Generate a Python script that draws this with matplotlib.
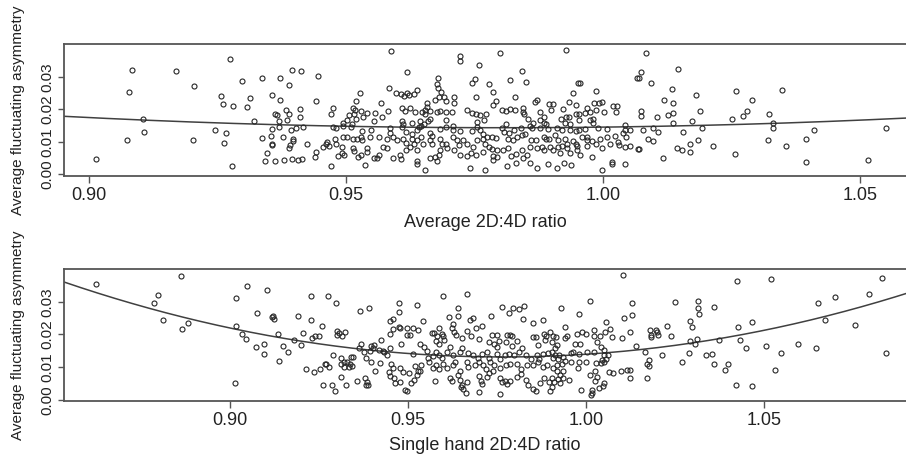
import numpy as np
import matplotlib.pyplot as plt

plt.rcParams['font.family'] = ['Liberation Sans', 'DejaVu Sans']

# Puntos: (ratio 2D:4D medio, asimetria fluctuante media)
avg_pts = [
    (0.9013, 0.0048), (0.9074, 0.0106), (0.9078, 0.0254), (0.9083, 0.0322), (0.9105, 0.0171),
    (0.9106, 0.0130), (0.9169, 0.0318), (0.9202, 0.0105), (0.9203, 0.0273), (0.9245, 0.0138),
    (0.9256, 0.0241), (0.9260, 0.0215), (0.9263, 0.0097), (0.9267, 0.0126), (0.9273, 0.0354),
    (0.9278, 0.0026), (0.9280, 0.0210), (0.9297, 0.0286), (0.9307, 0.0208), (0.9313, 0.0235),
    (0.9320, 0.0163), (0.9337, 0.0295), (0.9337, 0.0111), (0.9342, 0.0042), (0.9346, 0.0066),
    (0.9354, 0.0118), (0.9355, 0.0244), (0.9355, 0.0139), (0.9355, 0.0095), (0.9356, 0.0090),
    (0.9361, 0.0185), (0.9361, 0.0042), (0.9365, 0.0182), (0.9370, 0.0164), (0.9370, 0.0145),
    (0.9371, 0.0230), (0.9372, 0.0297), (0.9377, 0.0114), (0.9379, 0.0044), (0.9383, 0.0197),
    (0.9384, 0.0166), (0.9388, 0.0275), (0.9388, 0.0186), (0.9389, 0.0081), (0.9390, 0.0090),
    (0.9392, 0.0138), (0.9394, 0.0321), (0.9394, 0.0048), (0.9396, 0.0110), (0.9397, 0.0103),
    (0.9402, 0.0142), (0.9407, 0.0044), (0.9411, 0.0201), (0.9411, 0.0178), (0.9413, 0.0317),
    (0.9415, 0.0048), (0.9416, 0.0146), (0.9424, 0.0093),
    (0.9446, 0.0302), (0.9442, 0.0226), (0.9475, 0.0205), (0.9471, 0.0186), (0.9474, 0.0146),
    (0.9481, 0.0142), (0.9454, 0.0083), (0.9461, 0.0093), (0.9467, 0.0087), (0.9463, 0.0100),
    (0.9479, 0.0109), (0.9481, 0.0095), (0.9442, 0.0070), (0.9440, 0.0054), (0.9471, 0.0026),
    (0.9485, 0.0057),
    (0.9588, 0.0380), (0.9721, 0.0365), (0.9721, 0.0350), (0.9758, 0.0337), (0.9618, 0.0314),
    (0.9679, 0.0297), (0.9750, 0.0292), (0.9744, 0.0282), (0.9777, 0.0278), (0.9677, 0.0277),
    (0.9679, 0.0267), (0.9583, 0.0267), (0.9597, 0.0249), (0.9527, 0.0249), (0.9607, 0.0246),
    (0.9612, 0.0240), (0.9619, 0.0251), (0.9623, 0.0245), (0.9637, 0.0259), (0.9632, 0.0247),
    (0.9685, 0.0254), (0.9680, 0.0239), (0.9673, 0.0229), (0.9691, 0.0237), (0.9695, 0.0226),
    (0.9709, 0.0239), (0.9709, 0.0218), (0.9752, 0.0239), (0.9520, 0.0226), (0.9567, 0.0218),
    (0.9658, 0.0218), (0.9658, 0.0208), (0.9608, 0.0203), (0.9614, 0.0196), (0.9624, 0.0203),
    (0.9634, 0.0192), (0.9647, 0.0193), (0.9653, 0.0198), (0.9654, 0.0186), (0.9664, 0.0196),
    (0.9676, 0.0193), (0.9682, 0.0196), (0.9694, 0.0193), (0.9706, 0.0193), (0.9513, 0.0203),
    (0.9517, 0.0198), (0.9515, 0.0186), (0.9529, 0.0195), (0.9541, 0.0190), (0.9556, 0.0190),
    (0.9569, 0.0175), (0.9582, 0.0196), (0.9505, 0.0182), (0.9502, 0.0167), (0.9520, 0.0169),
    (0.9533, 0.0178), (0.9555, 0.0163), (0.9608, 0.0164), (0.9611, 0.0155), (0.9628, 0.0159),
    (0.9643, 0.0165), (0.9645, 0.0149), (0.9660, 0.0163), (0.9664, 0.0169), (0.9695, 0.0167),
    (0.9736, 0.0198), (0.9744, 0.0190), (0.9752, 0.0186), (0.9760, 0.0182), (0.9768, 0.0167),
    (0.9754, 0.0162), (0.9772, 0.0186), (0.9493, 0.0157), (0.9494, 0.0150), (0.9511, 0.0155),
    (0.9510, 0.0145), (0.9530, 0.0134), (0.9549, 0.0136), (0.9585, 0.0142), (0.9586, 0.0128),
    (0.9608, 0.0145), (0.9617, 0.0131), (0.9629, 0.0124), (0.9638, 0.0136), (0.9642, 0.0145),
    (0.9651, 0.0155), (0.9664, 0.0126), (0.9667, 0.0118), (0.9682, 0.0140), (0.9694, 0.0145),
    (0.9707, 0.0149), (0.9707, 0.0136), (0.9721, 0.0134), (0.9744, 0.0134), (0.9755, 0.0146),
    (0.9760, 0.0138), (0.9767, 0.0124), (0.9773, 0.0114), (0.9493, 0.0114), (0.9502, 0.0116),
    (0.9514, 0.0110), (0.9521, 0.0110), (0.9529, 0.0114), (0.9531, 0.0106), (0.9546, 0.0114),
    (0.9564, 0.0116), (0.9579, 0.0110), (0.9591, 0.0114), (0.9599, 0.0106), (0.9611, 0.0110),
    (0.9616, 0.0097), (0.9628, 0.0110), (0.9631, 0.0095), (0.9637, 0.0106), (0.9645, 0.0114),
    (0.9650, 0.0095), (0.9664, 0.0106), (0.9666, 0.0093), (0.9682, 0.0110), (0.9686, 0.0095),
    (0.9695, 0.0093), (0.9697, 0.0080), (0.9708, 0.0114), (0.9716, 0.0106), (0.9719, 0.0091),
    (0.9728, 0.0106), (0.9736, 0.0095), (0.9746, 0.0085), (0.9754, 0.0106), (0.9767, 0.0110),
    (0.9770, 0.0095), (0.9777, 0.0085), (0.9492, 0.0083), (0.9496, 0.0059), (0.9492, 0.0065),
    (0.9513, 0.0080), (0.9516, 0.0073), (0.9523, 0.0052), (0.9528, 0.0059), (0.9540, 0.0070),
    (0.9540, 0.0080), (0.9554, 0.0049), (0.9564, 0.0059), (0.9560, 0.0049), (0.9571, 0.0083),
    (0.9579, 0.0080), (0.9537, 0.0029), (0.9592, 0.0049), (0.9605, 0.0059), (0.9606, 0.0046),
    (0.9617, 0.0075), (0.9624, 0.0083), (0.9638, 0.0075), (0.9638, 0.0042), (0.9638, 0.0032),
    (0.9653, 0.0015), (0.9664, 0.0049), (0.9673, 0.0054), (0.9676, 0.0042), (0.9681, 0.0059),
    (0.9682, 0.0075), (0.9710, 0.0075), (0.9722, 0.0059), (0.9736, 0.0056), (0.9742, 0.0065),
    (0.9752, 0.0059), (0.9767, 0.0070), (0.9741, 0.0021), (0.9771, 0.0015),
    (0.9799, 0.0372), (0.9928, 0.0384), (0.9842, 0.0318), (0.9849, 0.0284), (0.9819, 0.0290),
    (0.9951, 0.0282), (0.9954, 0.0282), (1.0065, 0.0295), (1.0069, 0.0295), (0.9786, 0.0254),
    (0.9829, 0.0239), (0.9942, 0.0251), (0.9986, 0.0257), (0.9867, 0.0223), (0.9872, 0.0228),
    (0.9894, 0.0215), (0.9903, 0.0215), (0.9899, 0.0198), (0.9933, 0.0223), (0.9948, 0.0214),
    (0.9982, 0.0218), (0.9991, 0.0220), (0.9997, 0.0223), (0.9792, 0.0225), (0.9786, 0.0213),
    (0.9803, 0.0198), (0.9811, 0.0196), (0.9819, 0.0200), (0.9829, 0.0198), (0.9844, 0.0203),
    (0.9844, 0.0192), (0.9846, 0.0185), (0.9877, 0.0192), (0.9921, 0.0200), (0.9947, 0.0187),
    (0.9952, 0.0185), (0.9969, 0.0203), (0.9974, 0.0192), (0.9986, 0.0198), (1.0002, 0.0192),
    (1.0020, 0.0210), (1.0026, 0.0210), (1.0024, 0.0192), (0.9853, 0.0169), (0.9863, 0.0157),
    (0.9877, 0.0167), (0.9884, 0.0175), (0.9884, 0.0159), (0.9889, 0.0155), (0.9917, 0.0169),
    (0.9928, 0.0175), (0.9934, 0.0177), (0.9926, 0.0157), (0.9936, 0.0155), (0.9952, 0.0167),
    (0.9965, 0.0190), (0.9974, 0.0167), (0.9981, 0.0159), (0.9981, 0.0169), (0.9810, 0.0155),
    (0.9803, 0.0144), (0.9807, 0.0131), (0.9816, 0.0126), (0.9827, 0.0136), (0.9840, 0.0144),
    (0.9858, 0.0149), (0.9861, 0.0144), (0.9877, 0.0144), (0.9893, 0.0141), (0.9910, 0.0144),
    (0.9919, 0.0136), (0.9936, 0.0136), (0.9948, 0.0134), (0.9952, 0.0138), (0.9965, 0.0141),
    (0.9989, 0.0144), (1.0007, 0.0141), (1.0042, 0.0152), (1.0042, 0.0138), (1.0052, 0.0136),
    (0.9783, 0.0115), (0.9792, 0.0113), (0.9814, 0.0110), (0.9824, 0.0107), (0.9832, 0.0116),
    (0.9842, 0.0122), (0.9847, 0.0124), (0.9859, 0.0107), (0.9869, 0.0107), (0.9884, 0.0116),
    (0.9889, 0.0110), (0.9895, 0.0110), (0.9907, 0.0121), (0.9913, 0.0105), (0.9926, 0.0110),
    (0.9930, 0.0095), (0.9941, 0.0103), (0.9948, 0.0095), (0.9958, 0.0114), (0.9969, 0.0114),
    (0.9969, 0.0107), (0.9978, 0.0103), (0.9994, 0.0110), (1.0007, 0.0116), (1.0022, 0.0118),
    (1.0038, 0.0126), (1.0044, 0.0114), (0.9784, 0.0079), (0.9793, 0.0076), (0.9786, 0.0056),
    (0.9794, 0.0052), (0.9786, 0.0044), (0.9806, 0.0075), (0.9814, 0.0080), (0.9820, 0.0056),
    (0.9831, 0.0062), (0.9842, 0.0075), (0.9844, 0.0049), (0.9851, 0.0059), (0.9858, 0.0083),
    (0.9871, 0.0080), (0.9880, 0.0083), (0.9884, 0.0075), (0.9897, 0.0085), (0.9903, 0.0075),
    (0.9913, 0.0083), (0.9919, 0.0087), (0.9916, 0.0065), (0.9929, 0.0080), (0.9936, 0.0065),
    (0.9950, 0.0087), (0.9950, 0.0075), (0.9955, 0.0059), (0.9968, 0.0087), (0.9986, 0.0093),
    (0.9978, 0.0052), (0.9998, 0.0080), (1.0013, 0.0095), (1.0029, 0.0100), (1.0031, 0.0090),
    (1.0042, 0.0085), (1.0052, 0.0087), (1.0068, 0.0077), (0.9812, 0.0025), (0.9831, 0.0036),
    (0.9858, 0.0036), (0.9872, 0.0021), (0.9893, 0.0031), (0.9910, 0.0021), (0.9923, 0.0036),
    (0.9937, 0.0028), (0.9998, 0.0013), (1.0017, 0.0031), (1.0017, 0.0039), (1.0043, 0.0031),
    (1.0083, 0.0374), (1.0073, 0.0316), (1.0093, 0.0280), (1.0145, 0.0324), (1.0134, 0.0263),
    (1.0118, 0.0228), (1.0136, 0.0221), (1.0180, 0.0244), (1.0073, 0.0195), (1.0074, 0.0181),
    (1.0105, 0.0178), (1.0126, 0.0182), (1.0136, 0.0188), (1.0189, 0.0196), (1.0173, 0.0165),
    (1.0135, 0.0158), (1.0077, 0.0138), (1.0096, 0.0142), (1.0107, 0.0131), (1.0156, 0.0129),
    (1.0193, 0.0142), (1.0088, 0.0110), (1.0097, 0.0104), (1.0185, 0.0106), (1.0168, 0.0093),
    (1.0143, 0.0082), (1.0154, 0.0074), (1.0169, 0.0068), (1.0070, 0.0077), (1.0116, 0.0049),
    (1.0213, 0.0088), (1.0258, 0.0256), (1.0290, 0.0228), (1.0280, 0.0195), (1.0272, 0.0180),
    (1.0250, 0.0171), (1.0256, 0.0064), (1.0322, 0.0185), (1.0330, 0.0159), (1.0331, 0.0142),
    (1.0321, 0.0106), (1.0347, 0.0261), (1.0355, 0.0088), (1.0395, 0.0109), (1.0410, 0.0136),
    (1.0394, 0.0039), (1.0515, 0.0044), (1.0550, 0.0142),
]

# Puntos: (ratio 2D:4D de una mano, asimetria)
single_pts = [
    (0.8623, 0.0354), (0.8798, 0.0320), (0.8787, 0.0296), (0.8813, 0.0243), (0.8863, 0.0380),
    (0.8865, 0.0216), (0.8881, 0.0236), (0.9017, 0.0313), (0.9017, 0.0226), (0.9015, 0.0050),
    (0.9048, 0.0349), (0.9034, 0.0202), (0.9044, 0.0186), (0.9076, 0.0266), (0.9073, 0.0161),
    (0.9095, 0.0172), (0.9095, 0.0141), (0.9104, 0.0337), (0.9118, 0.0255), (0.9125, 0.0248),
    (0.9121, 0.0256), (0.9134, 0.0202), (0.9138, 0.0119), (0.9148, 0.0165), (0.9163, 0.0146),
    (0.9181, 0.0184), (0.9192, 0.0257), (0.9199, 0.0169), (0.9204, 0.0206), (0.9213, 0.0095),
    (0.9227, 0.0317), (0.9227, 0.0245), (0.9230, 0.0189), (0.9240, 0.0195), (0.9249, 0.0196),
    (0.9259, 0.0226), (0.9276, 0.0317), (0.9298, 0.0298), (0.9300, 0.0211), (0.9307, 0.0204),
    (0.9300, 0.0199), (0.9314, 0.0194), (0.9322, 0.0209), (0.9290, 0.0138), (0.9236, 0.0084),
    (0.9253, 0.0095), (0.9271, 0.0109), (0.9277, 0.0101), (0.9267, 0.0109), (0.9262, 0.0044),
    (0.9287, 0.0044), (0.9296, 0.0028), (0.9311, 0.0128), (0.9311, 0.0109), (0.9320, 0.0115),
    (0.9320, 0.0101), (0.9329, 0.0115), (0.9337, 0.0109), (0.9333, 0.0099), (0.9313, 0.0071),
    (0.9326, 0.0046), (0.9341, 0.0130), (0.9345, 0.0130), (0.9343, 0.0102), (0.9356, 0.0056),
    (0.9365, 0.0272), (0.9391, 0.0282), (0.9361, 0.0160), (0.9367, 0.0171), (0.9376, 0.0146),
    (0.9382, 0.0128), (0.9395, 0.0165), (0.9401, 0.0160), (0.9404, 0.0169), (0.9393, 0.0148),
    (0.9395, 0.0116), (0.9408, 0.0087), (0.9378, 0.0067), (0.9386, 0.0054), (0.9382, 0.0046),
    (0.9389, 0.0044), (0.9423, 0.0183), (0.9429, 0.0150), (0.9433, 0.0146), (0.9418, 0.0153),
    (0.9421, 0.0112), (0.9449, 0.0240), (0.9457, 0.0248), (0.9449, 0.0201), (0.9459, 0.0217),
    (0.9449, 0.0158), (0.9440, 0.0138), (0.9451, 0.0109), (0.9457, 0.0097), (0.9447, 0.0085),
    (0.9449, 0.0073), (0.9461, 0.0067), (0.9464, 0.0050), (0.9474, 0.0296), (0.9474, 0.0268),
    (0.9474, 0.0224),
    (0.9599, 0.0318), (0.9665, 0.0323), (0.9526, 0.0291), (0.9615, 0.0255), (0.9639, 0.0258),
    (0.9639, 0.0280), (0.9674, 0.0245), (0.9682, 0.0250), (0.9732, 0.0258), (0.9764, 0.0283),
    (0.9783, 0.0266), (0.9796, 0.0282), (0.9812, 0.0278), (0.9826, 0.0286), (0.9824, 0.0248),
    (0.9852, 0.0234), (0.9878, 0.0244), (0.9541, 0.0240), (0.9529, 0.0213), (0.9515, 0.0221),
    (0.9496, 0.0221), (0.9496, 0.0197), (0.9506, 0.0199), (0.9478, 0.0219), (0.9567, 0.0204),
    (0.9573, 0.0204), (0.9588, 0.0219), (0.9595, 0.0201), (0.9599, 0.0194), (0.9582, 0.0194),
    (0.9580, 0.0181), (0.9588, 0.0170), (0.9601, 0.0184), (0.9624, 0.0219), (0.9627, 0.0231),
    (0.9629, 0.0209), (0.9635, 0.0197), (0.9652, 0.0189), (0.9665, 0.0211), (0.9678, 0.0195),
    (0.9691, 0.0221), (0.9708, 0.0227), (0.9698, 0.0187), (0.9727, 0.0178), (0.9735, 0.0197),
    (0.9751, 0.0197), (0.9756, 0.0181), (0.9741, 0.0170), (0.9749, 0.0163), (0.9777, 0.0197),
    (0.9786, 0.0197), (0.9792, 0.0194), (0.9775, 0.0178), (0.9792, 0.0166), (0.9805, 0.0181),
    (0.9820, 0.0158), (0.9852, 0.0191), (0.9858, 0.0191), (0.9865, 0.0168), (0.9882, 0.0201),
    (0.9887, 0.0194), (0.9885, 0.0184), (0.9481, 0.0170), (0.9513, 0.0140), (0.9534, 0.0170),
    (0.9545, 0.0163), (0.9552, 0.0148), (0.9556, 0.0128), (0.9569, 0.0133), (0.9579, 0.0146),
    (0.9588, 0.0138), (0.9595, 0.0128), (0.9609, 0.0146), (0.9618, 0.0163), (0.9627, 0.0138),
    (0.9646, 0.0146), (0.9653, 0.0158), (0.9669, 0.0142), (0.9683, 0.0136), (0.9697, 0.0128),
    (0.9707, 0.0140), (0.9723, 0.0146), (0.9728, 0.0128), (0.9749, 0.0140), (0.9758, 0.0126),
    (0.9773, 0.0138), (0.9783, 0.0140), (0.9798, 0.0136), (0.9811, 0.0146), (0.9831, 0.0138),
    (0.9844, 0.0126), (0.9861, 0.0138), (0.9867, 0.0126), (0.9878, 0.0140), (0.9894, 0.0143),
    (0.9478, 0.0097), (0.9487, 0.0085), (0.9502, 0.0082), (0.9520, 0.0102), (0.9534, 0.0089),
    (0.9536, 0.0107), (0.9558, 0.0115), (0.9571, 0.0097), (0.9580, 0.0107), (0.9588, 0.0095),
    (0.9599, 0.0109), (0.9609, 0.0097), (0.9627, 0.0107), (0.9632, 0.0117), (0.9646, 0.0087),
    (0.9665, 0.0115), (0.9669, 0.0099), (0.9688, 0.0107), (0.9698, 0.0115), (0.9710, 0.0107),
    (0.9719, 0.0095), (0.9730, 0.0115), (0.9741, 0.0107), (0.9758, 0.0097), (0.9775, 0.0107),
    (0.9786, 0.0109), (0.9805, 0.0109), (0.9816, 0.0095), (0.9833, 0.0107), (0.9850, 0.0107),
    (0.9866, 0.0117), (0.9880, 0.0099), (0.9891, 0.0107), (0.9478, 0.0054), (0.9491, 0.0030),
    (0.9496, 0.0026), (0.9509, 0.0051), (0.9517, 0.0061), (0.9524, 0.0077), (0.9529, 0.0089),
    (0.9576, 0.0056), (0.9618, 0.0066), (0.9623, 0.0056), (0.9639, 0.0077), (0.9646, 0.0061),
    (0.9648, 0.0038), (0.9655, 0.0034), (0.9663, 0.0021), (0.9652, 0.0044), (0.9665, 0.0054),
    (0.9700, 0.0074), (0.9704, 0.0056), (0.9707, 0.0048), (0.9698, 0.0024), (0.9723, 0.0069),
    (0.9728, 0.0082), (0.9740, 0.0087), (0.9758, 0.0066), (0.9764, 0.0054), (0.9773, 0.0058),
    (0.9779, 0.0048), (0.9786, 0.0056), (0.9807, 0.0069), (0.9816, 0.0079), (0.9831, 0.0061),
    (0.9850, 0.0034), (0.9859, 0.0026), (0.9838, 0.0046), (0.9871, 0.0051), (0.9882, 0.0066),
    (0.9895, 0.0054), (0.9758, 0.0018),
    (1.0103, 0.0384), (1.0011, 0.0303), (0.9931, 0.0280), (0.9981, 0.0262), (1.0129, 0.0298),
    (1.0107, 0.0252), (1.0129, 0.0260), (1.0250, 0.0299), (1.0313, 0.0303), (1.0313, 0.0280),
    (1.0316, 0.0262), (0.9899, 0.0209), (0.9906, 0.0194), (0.9916, 0.0191), (0.9905, 0.0177),
    (0.9918, 0.0168), (0.9914, 0.0160), (0.9903, 0.0146), (0.9912, 0.0138), (0.9923, 0.0136),
    (0.9908, 0.0128), (0.9921, 0.0126), (0.9936, 0.0130), (0.9942, 0.0118), (0.9918, 0.0107),
    (0.9933, 0.0109), (0.9906, 0.0097), (0.9919, 0.0089), (0.9936, 0.0089), (0.9903, 0.0068),
    (0.9920, 0.0064), (0.9927, 0.0077), (0.9910, 0.0054), (0.9927, 0.0051), (0.9936, 0.0066),
    (0.9953, 0.0061), (0.9903, 0.0038), (0.9899, 0.0026), (0.9942, 0.0224), (0.9946, 0.0194),
    (0.9940, 0.0189), (0.9974, 0.0201), (0.9989, 0.0209), (1.0000, 0.0201), (1.0022, 0.0214),
    (1.0022, 0.0194), (1.0039, 0.0194), (1.0054, 0.0207), (1.0066, 0.0217), (1.0056, 0.0238),
    (1.0073, 0.0191), (1.0101, 0.0189), (1.0124, 0.0207), (0.9968, 0.0170), (0.9983, 0.0170),
    (1.0032, 0.0178), (1.0041, 0.0163), (1.0049, 0.0153), (0.9957, 0.0143), (0.9964, 0.0146),
    (0.9981, 0.0140), (1.0004, 0.0146), (1.0022, 0.0146), (1.0049, 0.0138), (1.0056, 0.0126),
    (1.0062, 0.0136), (0.9959, 0.0116), (0.9979, 0.0117), (1.0000, 0.0116), (0.9978, 0.0097),
    (1.0028, 0.0113), (1.0041, 0.0113), (1.0049, 0.0116), (1.0045, 0.0123), (1.0024, 0.0087),
    (1.0011, 0.0077), (1.0032, 0.0069), (1.0026, 0.0056), (1.0049, 0.0051), (1.0047, 0.0041),
    (1.0017, 0.0031), (1.0017, 0.0021), (1.0015, 0.0013), (0.9985, 0.0031), (1.0035, 0.0036),
    (1.0064, 0.0085), (1.0075, 0.0082), (1.0097, 0.0089), (1.0116, 0.0092), (1.0124, 0.0092),
    (1.0122, 0.0068), (1.0172, 0.0066), (1.0139, 0.0166), (1.0165, 0.0146), (1.0176, 0.0123),
    (1.0170, 0.0109), (1.0176, 0.0102), (1.0182, 0.0199), (1.0183, 0.0191), (1.0195, 0.0213),
    (1.0198, 0.0209), (1.0202, 0.0199), (1.0180, 0.0214), (1.0226, 0.0226), (1.0238, 0.0196),
    (1.0213, 0.0138), (1.0268, 0.0115), (1.0288, 0.0143), (1.0292, 0.0181), (1.0307, 0.0170),
    (1.0311, 0.0187), (1.0298, 0.0223), (1.0292, 0.0240),
    (1.0358, 0.0283), (1.0336, 0.0138), (1.0353, 0.0139), (1.0360, 0.0108), (1.0372, 0.0184),
    (1.0389, 0.0090), (1.0399, 0.0108), (1.0425, 0.0365), (1.0426, 0.0222), (1.0432, 0.0182),
    (1.0421, 0.0046), (1.0449, 0.0159), (1.0465, 0.0239), (1.0467, 0.0041), (1.0504, 0.0165),
    (1.0519, 0.0371), (1.0531, 0.0090), (1.0547, 0.0144), (1.0596, 0.0172), (1.0647, 0.0160),
    (1.0650, 0.0296), (1.0670, 0.0245), (1.0698, 0.0315), (1.0754, 0.0228), (1.0794, 0.0324),
    (1.0830, 0.0374), (1.0842, 0.0144),
]

# Curvas cuadraticas ajustadas (valores leidos sobre la linea)
avg_curve_x = [0.895, 0.943, 0.975, 1.000, 1.033, 1.059]
avg_curve_y = [0.0179, 0.0150, 0.0143, 0.0145, 0.0159, 0.0172]
single_curve_x = [0.8534, 0.900, 0.9224, 0.948, 0.976, 0.990, 1.031, 1.050, 1.090]
single_curve_y = [0.0359, 0.0226, 0.0173, 0.0143, 0.0129, 0.0134, 0.0176, 0.0214, 0.0326]

x_ticks_avg = [0.90, 0.95, 1.00, 1.05]
x_ticks_single = [0.90, 0.95, 1.00, 1.05]
y_ticks = [0.00, 0.01, 0.02, 0.03]

W, H = 906, 455
fig = plt.figure(figsize=(W / 100, H / 100), dpi=100)

# (puntos, curva x, curva y, ticks, limites x, posicion en px, etiqueta x, linea base de la etiqueta)
paneles = [
    (avg_pts, avg_curve_x, avg_curve_y, x_ticks_avg, (0.8951, 1.0593),
     [64 / W, 1 - 175.7 / H, 844 / W, 131.4 / H], 'Average 2D:4D ratio', 227),
    (single_pts, single_curve_x, single_curve_y, x_ticks_single, (0.8534, 1.0904),
     [64 / W, 1 - 401 / H, 844 / W, 131.7 / H], 'Single hand 2D:4D ratio', 450),
]

ink = '#262626'
for pts, cx, cy, xt, xlim, pos, xlabel, base_y in paneles:
    ax = fig.add_axes(pos)
    xs = np.array([p[0] for p in pts])
    ys = np.array([p[1] for p in pts])
    ax.plot(xs, ys, 'o', ms=3.6, mfc='none', mec=ink, mew=0.8, zorder=3)

    coef = np.polyfit(cx, cy, 2)
    gx = np.linspace(xlim[0], xlim[1], 200)
    ax.plot(gx, np.polyval(coef, gx), color='#404040', lw=1.1, zorder=2)

    ax.set_xlim(*xlim)
    ax.set_ylim(-0.0004, 0.0400)
    ax.set_xticks(xt)
    ax.set_xticklabels([f'{t:.2f}' for t in xt])
    ax.set_yticks(y_ticks)
    ax.set_yticklabels([f'{t:.2f}' for t in y_ticks], rotation=90, va='center')
    ax.tick_params(axis='x', direction='out', length=5, width=1, color='#555555',
                   labelsize=13, pad=3, labelcolor='#222222')
    ax.tick_params(axis='y', direction='out', length=4.5, width=1, color='#555555',
                   labelsize=11, pad=2.5, labelcolor='#222222')
    for s in ax.spines.values():
        s.set_color('#555555')
        s.set_linewidth(1.3)

    fig.text(485 / W, 1 - base_y / H, xlabel, ha='center', va='baseline',
             fontsize=13, color='#222222')
    fig.text(18 / W, pos[1] + pos[3] / 2, 'Average fluctuating asymmetry', rotation=90,
             ha='center', va='center', fontsize=11, color='#222222')

fig.savefig('out.png', dpi=100)
